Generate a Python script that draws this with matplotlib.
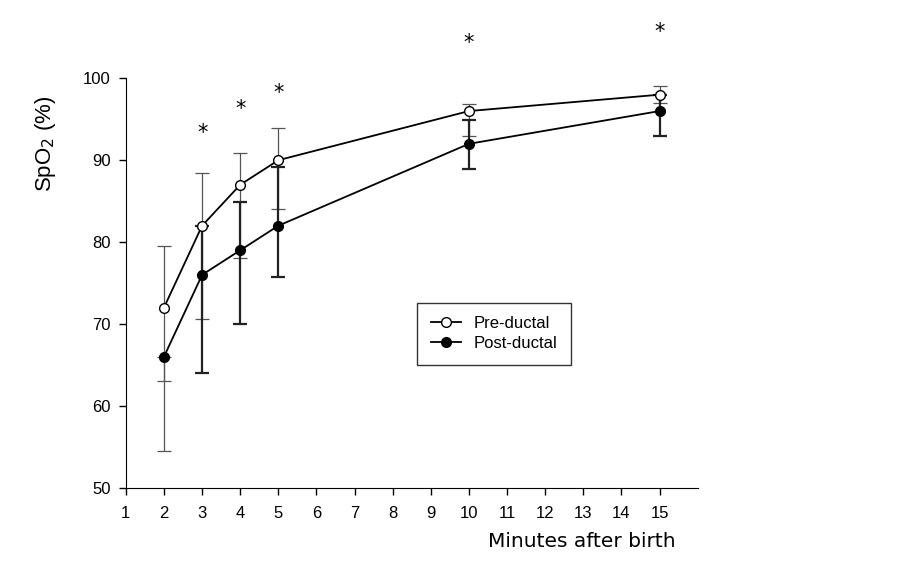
import matplotlib
matplotlib.use("Agg")
import matplotlib.pyplot as plt

minutes = [2, 3, 4, 5, 10, 15]

pre_mean = [72, 82, 87, 90, 96, 98]
pre_low = [63, 70.6, 78, 84, 93, 97]
pre_high = [79.5, 88.4, 90.9, 93.9, 96.9, 99]

post_mean = [66, 76, 79, 82, 92, 96]
post_low = [54.5, 64, 70, 75.7, 88.9, 93]
post_high = [66, 82, 84.9, 89.2, 94.9, 98]

star_x = [3, 4, 5, 10, 15]
star_y = [93.3, 96.2, 98.2, 104.3, 105.6]

plt.rcParams['font.family'] = ['Liberation Sans', 'DejaVu Sans']

fig = plt.figure(figsize=(9.12, 5.8), dpi=100)
ax = fig.add_axes([0.138, 0.159, 0.627, 0.706])

pre_err = [[m - l for m, l in zip(pre_mean, pre_low)],
           [h - m for m, h in zip(pre_mean, pre_high)]]
post_err = [[m - l for m, l in zip(post_mean, post_low)],
            [h - m for m, h in zip(post_mean, post_high)]]

# thin grey bars for pre-ductal, heavier black for post-ductal (first one is thin)
ax.errorbar(minutes, pre_mean, yerr=pre_err, fmt='none', ecolor='#555555',
            elinewidth=0.9, capsize=5, capthick=0.9, zorder=2)
ax.errorbar(minutes[:1], post_mean[:1], yerr=[post_err[0][:1], post_err[1][:1]],
            fmt='none', ecolor='#555555', elinewidth=0.9, capsize=5,
            capthick=0.9, zorder=2)
ax.errorbar(minutes[1:], post_mean[1:], yerr=[post_err[0][1:], post_err[1][1:]],
            fmt='none', ecolor='#222222', elinewidth=1.6, capsize=5,
            capthick=1.6, zorder=2)

ax.plot(minutes, pre_mean, color='black', lw=1.3, marker='o', ms=7,
        mfc='white', mec='black', mew=1.0, label='Pre-ductal', zorder=3)
ax.plot(minutes, post_mean, color='black', lw=1.3, marker='o', ms=7,
        mfc='black', mec='black', label='Post-ductal', zorder=3)

for x, y in zip(star_x, star_y):
    ax.text(x, y, '*', ha='center', va='center', fontsize=15,
            family='DejaVu Sans', clip_on=False)

ax.set_xlim(1, 16)
ax.set_ylim(50, 100)
ax.set_xticks(range(1, 16))
ax.set_yticks(range(50, 101, 10))
ax.tick_params(labelsize=12, direction='out', length=5, width=1)
ax.tick_params(axis='x', pad=8)
ax.tick_params(axis='y', pad=6)
ax.spines['top'].set_visible(False)
ax.spines['right'].set_visible(False)

ax.set_ylabel('SpO$_2$ (%)', fontsize=16)
ax.yaxis.set_label_coords(-0.118, 0.84)
fig.text(0.638, 0.067, 'Minutes after birth', ha='center', va='center',
         fontsize=14.5, family='DejaVu Sans')

leg = ax.legend(loc='upper left', bbox_to_anchor=(0.495, 0.472), fontsize=12,
                frameon=True, fancybox=False, edgecolor='black',
                handlelength=1.8, borderpad=0.8, labelspacing=0.3)
leg.get_frame().set_linewidth(1.0)

fig.savefig('out.png', dpi=100)
